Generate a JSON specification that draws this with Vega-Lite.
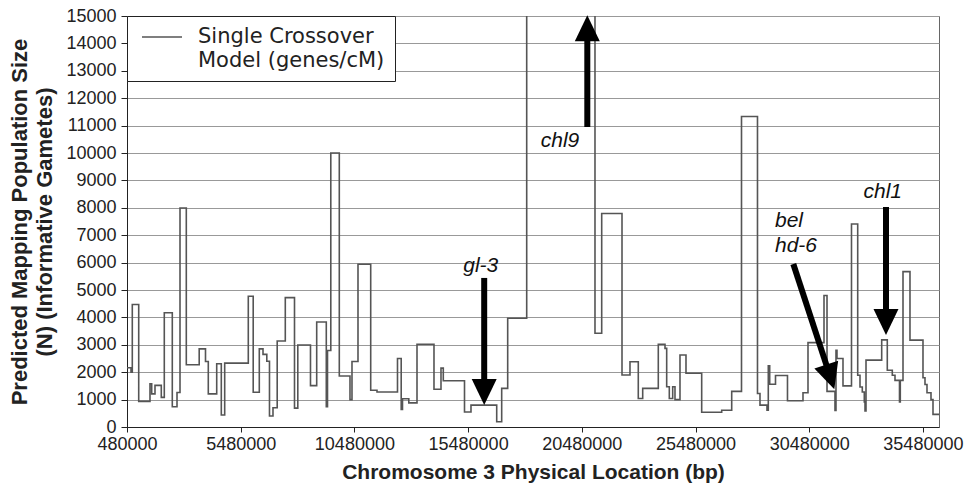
{
  "$schema": "https://vega.github.io/schema/vega-lite/v6.json",
  "width": 812,
  "height": 411,
  "autosize": {"type": "none"},
  "padding": {"left": 127, "top": 16, "right": 27, "bottom": 63},
  "background": "white",
  "datasets": {
    "series": [
      {"x": 480000, "y": 2160}, {"x": 656000, "y": 2000}, {"x": 713000, "y": 4470}, {"x": 995000, "y": 935},
      {"x": 1491000, "y": 1580}, {"x": 1566000, "y": 1210}, {"x": 1711000, "y": 1520}, {"x": 1988000, "y": 1080},
      {"x": 2120000, "y": 4170}, {"x": 2472000, "y": 740}, {"x": 2679000, "y": 1260}, {"x": 2811000, "y": 7990},
      {"x": 3088000, "y": 2270}, {"x": 3655000, "y": 2850}, {"x": 3932000, "y": 2390}, {"x": 4055000, "y": 1210},
      {"x": 4425000, "y": 2310}, {"x": 4627000, "y": 440}, {"x": 4776000, "y": 2330}, {"x": 5814000, "y": 4770},
      {"x": 6030000, "y": 1270}, {"x": 6298000, "y": 2850}, {"x": 6461000, "y": 2650}, {"x": 6628000, "y": 2400},
      {"x": 6746000, "y": 400}, {"x": 6900000, "y": 700}, {"x": 7085000, "y": 3140}, {"x": 7441000, "y": 4720},
      {"x": 7846000, "y": 690}, {"x": 7991000, "y": 2990}, {"x": 8549000, "y": 1510}, {"x": 8822000, "y": 3830},
      {"x": 9244000, "y": 740}, {"x": 9297000, "y": 2790}, {"x": 9442000, "y": 10000}, {"x": 9816000, "y": 1860},
      {"x": 10286000, "y": 1000}, {"x": 10374000, "y": 2390}, {"x": 10638000, "y": 5940}, {"x": 11197000, "y": 1340},
      {"x": 11474000, "y": 1280}, {"x": 12375000, "y": 2500}, {"x": 12538000, "y": 640}, {"x": 12595000, "y": 1030},
      {"x": 12872000, "y": 880}, {"x": 13233000, "y": 3020}, {"x": 13980000, "y": 1380}, {"x": 14288000, "y": 2150},
      {"x": 14389000, "y": 1690}, {"x": 15322000, "y": 550}, {"x": 15607000, "y": 800}, {"x": 16738000, "y": 190},
      {"x": 16957000, "y": 1410}, {"x": 17221000, "y": 3970}, {"x": 18057000, "y": 25000}, {"x": 21060000, "y": 3420},
      {"x": 21355000, "y": 7790}, {"x": 22248000, "y": 1900}, {"x": 22599000, "y": 2380}, {"x": 22964000, "y": 1040},
      {"x": 23158000, "y": 1410}, {"x": 23844000, "y": 3020}, {"x": 24139000, "y": 2870}, {"x": 24213000, "y": 1470},
      {"x": 24328000, "y": 1040}, {"x": 24477000, "y": 1470}, {"x": 24578000, "y": 1000}, {"x": 24798000, "y": 2630},
      {"x": 25062000, "y": 1960}, {"x": 25752000, "y": 540}, {"x": 26632000, "y": 610}, {"x": 27072000, "y": 1300},
      {"x": 27503000, "y": 11330}, {"x": 28206000, "y": 1220}, {"x": 28316000, "y": 800}, {"x": 28624000, "y": 610},
      {"x": 28681000, "y": 2230}, {"x": 28743000, "y": 1560}, {"x": 28998000, "y": 1880}, {"x": 29525000, "y": 960},
      {"x": 30207000, "y": 1250}, {"x": 30427000, "y": 3080}, {"x": 31131000, "y": 4800}, {"x": 31263000, "y": 1300},
      {"x": 31614000, "y": 600}, {"x": 31658000, "y": 2800}, {"x": 31702000, "y": 2500}, {"x": 31966000, "y": 1500},
      {"x": 32340000, "y": 7410}, {"x": 32613000, "y": 1890}, {"x": 32714000, "y": 1460}, {"x": 32815000, "y": 1280},
      {"x": 32903000, "y": 910}, {"x": 32934000, "y": 590}, {"x": 32978000, "y": 2440}, {"x": 33668000, "y": 3180},
      {"x": 33914000, "y": 2070}, {"x": 34134000, "y": 1890}, {"x": 34253000, "y": 1700}, {"x": 34451000, "y": 910},
      {"x": 34486000, "y": 1700}, {"x": 34605000, "y": 5670}, {"x": 34912000, "y": 3170}, {"x": 35484000, "y": 1800},
      {"x": 35572000, "y": 1550}, {"x": 35660000, "y": 1250}, {"x": 35836000, "y": 1000}, {"x": 35924000, "y": 460},
      {"x": 36188000, "y": 460}
    ],
    "notes": [
      {"gene": "gl-3", "part": "label", "x": 16038000, "y": 5670},
      {"gene": "chl9", "part": "label", "x": 19521000, "y": 10219},
      {"gene": "chl1", "part": "label", "x": 33716000, "y": 8370},
      {"gene": "bel\nhd-6", "part": "label2", "x": 28976000, "y": 7310},
      {"gene": "gl-3", "part": "shaft", "x": 16188000, "y": 5440, "x2": 16188000, "y2": 1277},
      {"gene": "chl9", "part": "shaft", "x": 20722000, "y": 10949, "x2": 20722000, "y2": 14562},
      {"gene": "bel hd-6", "part": "shaft", "x": 29781000, "y": 5949, "x2": 31408000, "y2": 1828},
      {"gene": "chl1", "part": "shaft", "x": 33857000, "y": 8029, "x2": 33857000, "y2": 3832},
      {"gene": "gl-3", "part": "down", "x": 16188000, "y": 800},
      {"gene": "chl1", "part": "down", "x": 33857000, "y": 3358},
      {"gene": "bel hd-6", "part": "slant", "x": 31584000, "y": 1376},
      {"gene": "chl9", "part": "up", "x": 20722000, "y": 15030}
    ]
  },
  "config": {
    "view": {"stroke": "#666666", "strokeWidth": 1},
    "axis": {
      "labelFont": "Liberation Sans", "labelFontSize": 18, "labelColor": "#222222",
      "titleFont": "Liberation Sans", "titleFontSize": 21, "titleFontWeight": "bold", "titleColor": "#222222",
      "domainColor": "#222222", "tickColor": "#222222", "gridColor": "#999999", "gridWidth": 1
    }
  },
  "encoding": {
    "x": {
      "field": "x", "type": "quantitative",
      "title": "Chromosome 3 Physical Location (bp)",
      "scale": {"domain": [480000, 36188000], "nice": false, "zero": false},
      "axis": {
        "values": [480000, 5480000, 10480000, 15480000, 20480000, 25480000, 30480000, 35480000],
        "format": "d", "grid": false, "tickSize": 5, "labelPadding": 3, "titlePadding": 8,
        "labelFlush": false, "labelOverlap": false
      }
    },
    "y": {
      "field": "y", "type": "quantitative",
      "title": ["Predicted Mapping Population Size", "(N) (Informative Gametes)"],
      "scale": {"domain": [0, 15000], "nice": false},
      "axis": {
        "values": [0, 1000, 2000, 3000, 4000, 5000, 6000, 7000, 8000, 9000, 10000, 11000, 12000, 13000, 14000, 15000],
        "format": "d", "grid": true, "tickSize": 6, "labelPadding": 5, "titlePadding": 9,
        "titleFontSize": 22, "titleLineHeight": 25, "labelOverlap": false
      }
    }
  },
  "layer": [
    {
      "data": {"name": "series"},
      "mark": {"type": "line", "interpolate": "step-after", "strokeWidth": 1.6, "clip": true},
      "encoding": {
        "color": {
          "datum": "Single Crossover Model (genes/cM)", "type": "nominal",
          "scale": {"range": ["#555555"]},
          "legend": {
            "title": null, "orient": "top-left", "offset": 0, "padding": 10,
            "strokeColor": "#222222", "fillColor": "white",
            "symbolType": "stroke", "symbolSize": 1600, "symbolStrokeWidth": 1.6, "symbolOffset": 4,
            "labelOffset": 15, "labelFont": "DejaVu Sans", "labelFontSize": 21, "labelColor": "#222222",
            "labelLimit": 400, "labelExpr": "['Single Crossover', 'Model (genes/cM)']",
            "encode": {
              "labels": {"update": {"y": {"value": 11}, "lineHeight": {"value": 24}}},
              "symbols": {"update": {"y": {"value": 11}}}
            }
          }
        }
      }
    },
    {
      "data": {"name": "notes"},
      "transform": [{"filter": "datum.part === 'shaft'"}],
      "mark": {"type": "rule", "strokeWidth": 6, "color": "black"},
      "encoding": {
        "x2": {"field": "x2"},
        "y2": {"field": "y2"}
      }
    },
    {
      "data": {"name": "notes"},
      "transform": [{"filter": "datum.part === 'down'"}],
      "mark": {"type": "point", "shape": "M-1,-2.08L1,-2.08L0,0Z", "size": 625, "filled": true, "color": "black", "opacity": 1, "strokeWidth": 0},
      "encoding": {}
    },
    {
      "data": {"name": "notes"},
      "transform": [{"filter": "datum.part === 'slant'"}],
      "mark": {"type": "point", "shape": "M-1,-2.08L1,-2.08L0,0Z", "size": 625, "angle": 342, "filled": true, "color": "black", "opacity": 1, "strokeWidth": 0},
      "encoding": {}
    },
    {
      "data": {"name": "notes"},
      "transform": [{"filter": "datum.part === 'up'"}],
      "mark": {"type": "point", "shape": "M-1,2.08L1,2.08L0,0Z", "size": 625, "filled": true, "color": "black", "opacity": 1, "strokeWidth": 0},
      "encoding": {}
    },
    {
      "data": {"name": "notes"},
      "transform": [{"filter": "datum.part === 'label'"}],
      "mark": {"type": "text", "font": "Liberation Sans", "fontStyle": "italic", "fontSize": 21, "baseline": "alphabetic", "align": "center", "color": "#111111"},
      "encoding": {
        "text": {"field": "gene"}
      }
    },
    {
      "data": {"name": "notes"},
      "transform": [{"filter": "datum.part === 'label2'"}],
      "mark": {"type": "text", "font": "Liberation Sans", "fontStyle": "italic", "fontSize": 21, "baseline": "alphabetic", "align": "left", "lineBreak": "\n", "lineHeight": 25, "color": "#111111"},
      "encoding": {
        "text": {"field": "gene"}
      }
    }
  ]
}
